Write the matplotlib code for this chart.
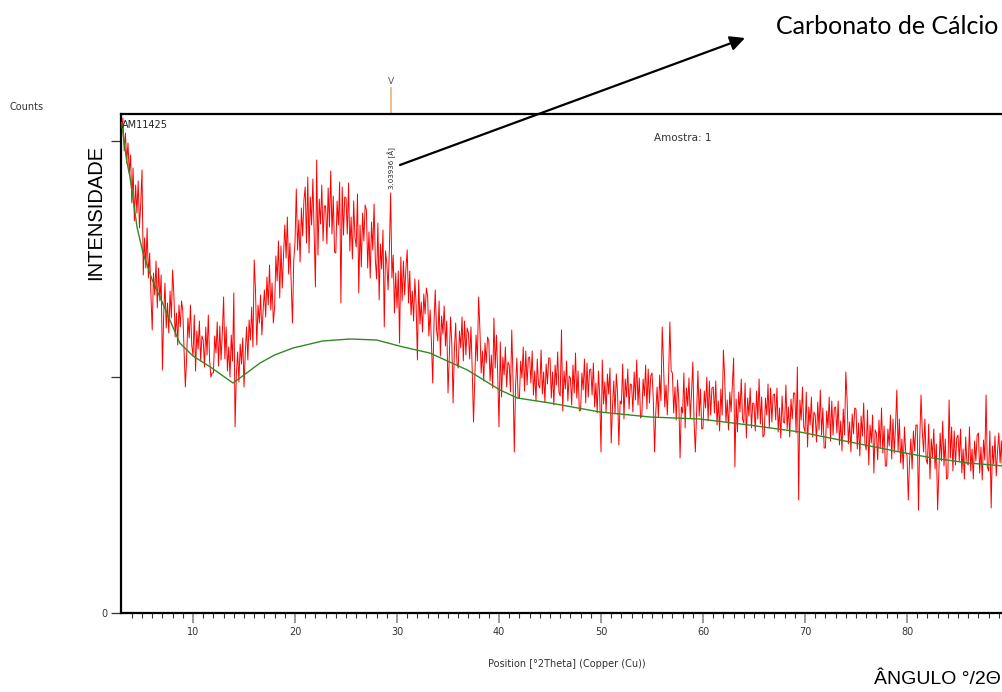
#!/usr/bin/env python3
"""Difratograma AM11425 (Amostra 1) com linha de fundo e pico da calcita."""
import matplotlib
matplotlib.use("Agg")
import matplotlib.pyplot as plt
import numpy as np

# ── dados ─────────────────────────────────────────────────────────────────────
# varredura 3–89.5 °2θ, passo 0.125° (uma linha por grau)
two_theta = np.round(np.arange(3.0, 89.51, 0.125), 3)
counts = [
    478, 495, 462, 480, 450, 470, 440, 458,   # 3
    410, 445, 392, 428, 400, 432, 385, 410,
    443, 338, 375, 345, 385, 335, 360, 318,   # 5
    283, 340, 318, 352, 305, 345, 312, 338,
    243, 298, 330, 285, 310, 280, 322, 295,
    343, 318, 276, 300, 268, 308, 286, 312,
    302, 262, 226, 255, 295, 275, 308, 268,
    257, 298, 242, 282, 264, 292, 252, 277,   # 10
    273, 246, 286, 258, 298, 253, 236, 240,
    240, 277, 260, 291, 247, 287, 253, 280,
    316, 254, 286, 242, 266, 236, 278, 252,
    320, 186, 239, 261, 231, 269, 249, 275,
    226, 260, 286, 253, 293, 273, 306, 266,   # 15
    353, 323, 268, 308, 290, 318, 278, 303,
    323, 296, 336, 308, 348, 303, 330, 290,
    305, 357, 332, 372, 315, 367, 325, 358,
    388, 355, 396, 339, 370, 331, 290, 352,
    371, 424, 363, 393, 351, 405, 377, 413,   # 20
    426, 370, 436, 360, 416, 388, 434, 378,
    326, 453, 358, 414, 389, 428, 372, 407,
    407, 369, 425, 386, 442, 379, 417, 361,
    360, 412, 388, 431, 310, 426, 378, 416,
    415, 379, 430, 362, 396, 354, 412, 376,   # 25
    366, 419, 320, 388, 346, 400, 372, 408,
    403, 345, 381, 335, 391, 363, 409, 353,
    334, 390, 313, 369, 344, 383, 286, 362,
    350, 323, 363, 420, 335, 358, 300, 340,
    305, 342, 270, 356, 312, 352, 318, 345,   # 30
    363, 310, 342, 298, 322, 292, 334, 308,
    253, 333, 289, 311, 281, 319, 299, 325,
    317, 277, 303, 270, 230, 290, 323, 283,
    272, 312, 257, 297, 279, 307, 267, 292,
    220, 256, 296, 268, 210, 263, 290, 250,   # 35
    245, 282, 265, 296, 252, 292, 258, 285,
    280, 254, 286, 242, 191, 236, 278, 252,
    316, 284, 240, 262, 232, 270, 250, 276,
    272, 232, 258, 225, 295, 245, 278, 238,
    186, 271, 216, 256, 238, 266, 226, 251,   # 40
    248, 221, 283, 233, 161, 228, 255, 215,
    215, 252, 235, 266, 222, 262, 228, 255,
    256, 230, 262, 218, 242, 212, 254, 228,
    225, 263, 219, 241, 211, 249, 229, 255,
    255, 215, 241, 208, 248, 228, 261, 221,   # 45
    217, 283, 202, 242, 224, 252, 212, 237,
    235, 208, 248, 220, 260, 215, 242, 202,
    203, 240, 223, 254, 210, 250, 216, 243,
    244, 218, 250, 206, 230, 200, 242, 216,
    161, 253, 209, 231, 201, 239, 219, 245,   # 50
    170, 206, 232, 199, 239, 219, 168, 212,
    209, 249, 194, 234, 216, 244, 204, 229,
    228, 201, 241, 213, 253, 208, 235, 195,
    197, 234, 217, 248, 204, 244, 210, 237,
    240, 214, 161, 202, 226, 196, 238, 212,   # 55
    286, 250, 206, 228, 198, 236, 291, 242,
    240, 200, 226, 193, 233, 213, 155, 206,
    200, 240, 185, 225, 207, 235, 195, 220,
    251, 190, 161, 202, 242, 197, 224, 184,
    185, 222, 205, 236, 192, 232, 198, 225,   # 60
    226, 200, 232, 188, 212, 182, 224, 198,
    263, 235, 191, 213, 183, 221, 201, 227,
    255, 146, 214, 181, 221, 201, 234, 194,
    190, 230, 175, 215, 197, 225, 185, 210,
    209, 182, 222, 194, 234, 189, 216, 176,   # 65
    178, 215, 198, 229, 185, 225, 191, 218,
    219, 193, 225, 181, 205, 175, 217, 191,
    190, 228, 184, 206, 176, 214, 194, 220,
    220, 180, 246, 113, 213, 193, 226, 186,
    181, 221, 166, 206, 188, 216, 176, 201,   # 70
    198, 171, 211, 183, 223, 178, 205, 165,
    165, 202, 185, 216, 172, 212, 178, 205,
    206, 180, 212, 168, 192, 162, 204, 178,
    241, 213, 169, 191, 161, 199, 179, 205,
    204, 164, 190, 157, 197, 177, 210, 170,   # 75
    163, 203, 148, 188, 170, 198, 140, 183,
    180, 153, 193, 165, 205, 160, 187, 147,
    147, 184, 167, 198, 154, 194, 160, 187,
    223, 162, 194, 150, 174, 144, 186, 160,
    158, 113, 152, 174, 144, 182, 162, 188,   # 80
    188, 103, 174, 218, 181, 161, 194, 154,
    149, 189, 134, 174, 156, 184, 144, 169,
    103, 140, 180, 152, 192, 147, 174, 134,
    135, 213, 155, 186, 142, 182, 148, 175,
    178, 152, 184, 140, 164, 134, 176, 150,   # 85
    148, 186, 142, 164, 134, 172, 152, 178,
    180, 140, 166, 133, 173, 153, 218, 146,
    142, 182, 105, 167, 149, 177, 137, 162,
    180, 150, 172, 138, 165,
]

# linha de fundo (°2θ, counts)
bg_theta = [3.0, 3.5, 3.82, 4.51, 5.1, 6.0, 6.76, 8.7, 10.0, 11.7, 13.92, 15.0,
            16.57, 18.0, 19.8, 22.7, 25.4, 28.0, 30.6, 33.2, 36.9, 40.1, 41.8,
            45.0, 49.9, 54.8, 59.7, 64.5, 69.5, 74.4, 79.3, 82.5, 86.0, 89.5]
bg_counts = [490, 452, 436, 386, 360, 333, 316, 270, 257, 246, 230, 238,
             250, 258, 265, 272, 274, 273, 266, 260, 243, 223, 215,
             210, 201, 196, 194, 188, 181, 171, 161, 155, 150, 147]

peak_pos = 29.4
peak_counts = 420
peak_label = "3.03936 [Å]"

W, H = 1003, 692

fig = plt.figure(figsize=(W / 100, H / 100), dpi=100)
ax = fig.add_axes([121 / W, (H - 613) / H, 882 / W, 499 / H])

ax.plot(two_theta, counts, color="#ff0000", lw=0.7, zorder=2)
ax.plot(bg_theta, bg_counts, color="#2e8b22", lw=1.0, zorder=3)

ax.set_xlim(2.94, 2.94 + 882 / 10.2)
ax.set_ylim(0, 499)

for side in ("left", "bottom", "top"):
    ax.spines[side].set_linewidth(1.6)
    ax.spines[side].set_color("black")
ax.spines["right"].set_visible(False)

ax.set_xticks(np.arange(10, 90, 10))
ax.set_xticks(np.arange(4, 90, 1), minor=True)
ax.tick_params(axis="x", which="major", length=7, width=1.2, color="#8a8a8a",
               labelsize=7, pad=3, labelcolor="#333333")
ax.tick_params(axis="x", which="minor", length=3.5, width=0.8, color="#333333")
ax.set_yticks([0, 236, 472])
ax.set_yticklabels(["0", "", ""])
ax.tick_params(axis="y", length=7, width=0.9, color="#333333", labelsize=7,
               pad=3, labelcolor="#333333")
ax.tick_params(top=False, right=False)

# textos internos
ax.text(3.05, 493, "AM11425", fontsize=7, ha="left", va="top", color="#222222")
ax.text(58.0, 475, "Amostra: 1", fontsize=7.5, ha="center", va="center",
        color="#333333")
ax.text(peak_pos + 0.05, peak_counts + 4, peak_label, rotation=90, fontsize=5,
        ha="center", va="bottom", color="#222222")

# marcador de referência acima do gráfico
ax.plot([peak_pos, peak_pos], [499, 525], color="#e8b070", lw=1.2,
        clip_on=False)
ax.text(peak_pos, 527, "V", fontsize=6.5, ha="center", va="bottom",
        color="#555555", clip_on=False)


def fx(px):
    return px / W


def fy(py):
    return 1 - py / H


fig.text(fx(10), fy(107), "Counts", fontsize=7, ha="left", va="center",
         color="#333333")
fig.text(fx(567), fy(664), "Position [°2Theta] (Copper (Cu))", fontsize=7,
         ha="center", va="center", color="#333333")
fig.text(fx(96), fy(212), "INTENSIDADE", rotation=90, fontsize=14.5,
         family="Liberation Sans", ha="center", va="center")
fig.text(fx(1001), fy(680), "ÂNGULO °/2Θ", fontsize=14,
         family="Liberation Sans", ha="right", va="center")
fig.text(fx(776), fy(27), "Carbonato de Cálcio", fontsize=18,
         family="Lato", ha="left", va="center")

ax.annotate("", xy=(fx(745), fy(38)), xytext=(fx(400), fy(165)),
            xycoords="figure fraction", textcoords="figure fraction",
            arrowprops=dict(arrowstyle="-|>", lw=1.6, color="black",
                            mutation_scale=22, shrinkA=0, shrinkB=0),
            annotation_clip=False)

fig.savefig("out.png", dpi=100)
